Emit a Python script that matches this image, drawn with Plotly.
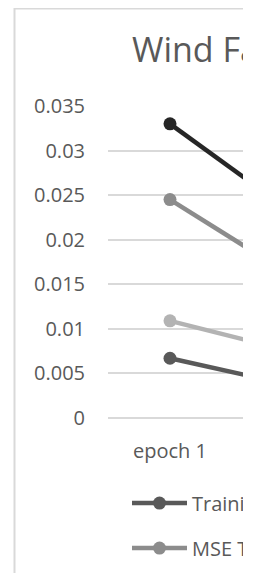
import plotly.graph_objects as go

# ---- data ----
categories = ["epoch 1", "epoch 2"]
training_mse = [0.0067, 0.0036]       # dark gray
mse_test = [0.0245, 0.0158]           # medium gray
series_black = [0.033, 0.0229]        # black
series_light = [0.0109, 0.0074]       # light gray
series_names = ["Training MSE", "MSE Test", "MSE Validation", "Training Loss"]
y_tickvals = [0, 0.005, 0.01, 0.015, 0.02, 0.025, 0.03, 0.035]
y_ticktext = ["0", "0.005", "0.01", "0.015", "0.02", "0.025", "0.03", "0.035"]
title_text = "Wind Farm Training Error"

FONT = "Open Sans"
TXT = "#595959"

OFF = 8  # body margin of page
W = 255 - OFF
H = 581 - 2 * OFF
CUT = 243 - OFF  # right edge of the visible chart (figure px)

ml, mr = 108 - OFF, W - CUT
mt = 105.7 - OFF
plot_bottom = 418.3 - OFF
mb = H - plot_bottom
plot_w = W - ml - mr
plot_h = plot_bottom - mt
cat_w = 124

def px_to_paper_x(px):
    return (px - ml) / plot_w

def px_to_paper_y(py):
    return (plot_bottom - py) / plot_h

fig = go.Figure()

def add(name, vals, color, show):
    fig.add_trace(go.Scatter(
        x=categories, y=vals, name=name, mode="lines+markers",
        line=dict(color=color, width=4.5),
        marker=dict(color=color, size=13),
        showlegend=show, legendgroup=name,
    ))

add(series_names[0], training_mse, "#595959", True)
add(series_names[1], mse_test, "#8c8c8c", True)
add(series_names[2], series_black, "#262626", False)
add(series_names[3], series_light, "#b3b3b3", False)

fig.update_layout(
    width=W, height=H,
    margin=dict(l=ml, r=mr, t=mt, b=mb, pad=0, autoexpand=False),
    paper_bgcolor="white", plot_bgcolor="white",
    font=dict(family=FONT, size=20, color=TXT),
    title=dict(text=title_text, x=px_to_paper_x(132 - OFF), xref="paper",
               xanchor="left", y=1 - (62 - OFF) / H, yanchor="bottom",
               yref="container", font=dict(size=34, color=TXT)),
    showlegend=True,
    legend=dict(orientation="v", traceorder="grouped",
                x=px_to_paper_x(127 - OFF), xanchor="left",
                y=px_to_paper_y(484 - OFF), yanchor="top",
                itemwidth=55, tracegroupgap=16,
                font=dict(size=20, color=TXT), bgcolor="rgba(0,0,0,0)"),
    shapes=[dict(type="rect", xref="paper", yref="paper",
                 x0=px_to_paper_x(14.5 - OFF), x1=1.5,
                 y0=-3, y1=px_to_paper_y(8 - OFF),
                 line=dict(color="#d9d9d9", width=2), layer="below")],
    # white margin strip on the right: the chart is cut off there
    annotations=[dict(text=" ", xref="paper", yref="paper",
                      x=1, xanchor="left", y=px_to_paper_y(H / 2), yanchor="middle",
                      width=W - CUT + 10, height=H + 20, bgcolor="white",
                      borderpad=0, borderwidth=0, showarrow=False)],
)

fig.update_xaxes(
    type="category", range=[-0.5, -0.5 + plot_w / cat_w],
    showgrid=False, showline=False, zeroline=False, ticks="",
    ticklabelstandoff=19, tickfont=dict(size=20, color=TXT),
)
fig.update_yaxes(
    range=[0, 0.035], tickvals=y_tickvals, ticktext=y_ticktext,
    showgrid=True, gridcolor="#d9d9d9", gridwidth=2,
    zeroline=True, zerolinecolor="#d9d9d9", zerolinewidth=2,
    showline=False, ticks="", ticklabelstandoff=22,
    tickfont=dict(size=20, color=TXT),
)

fig.write_html("out.html")
